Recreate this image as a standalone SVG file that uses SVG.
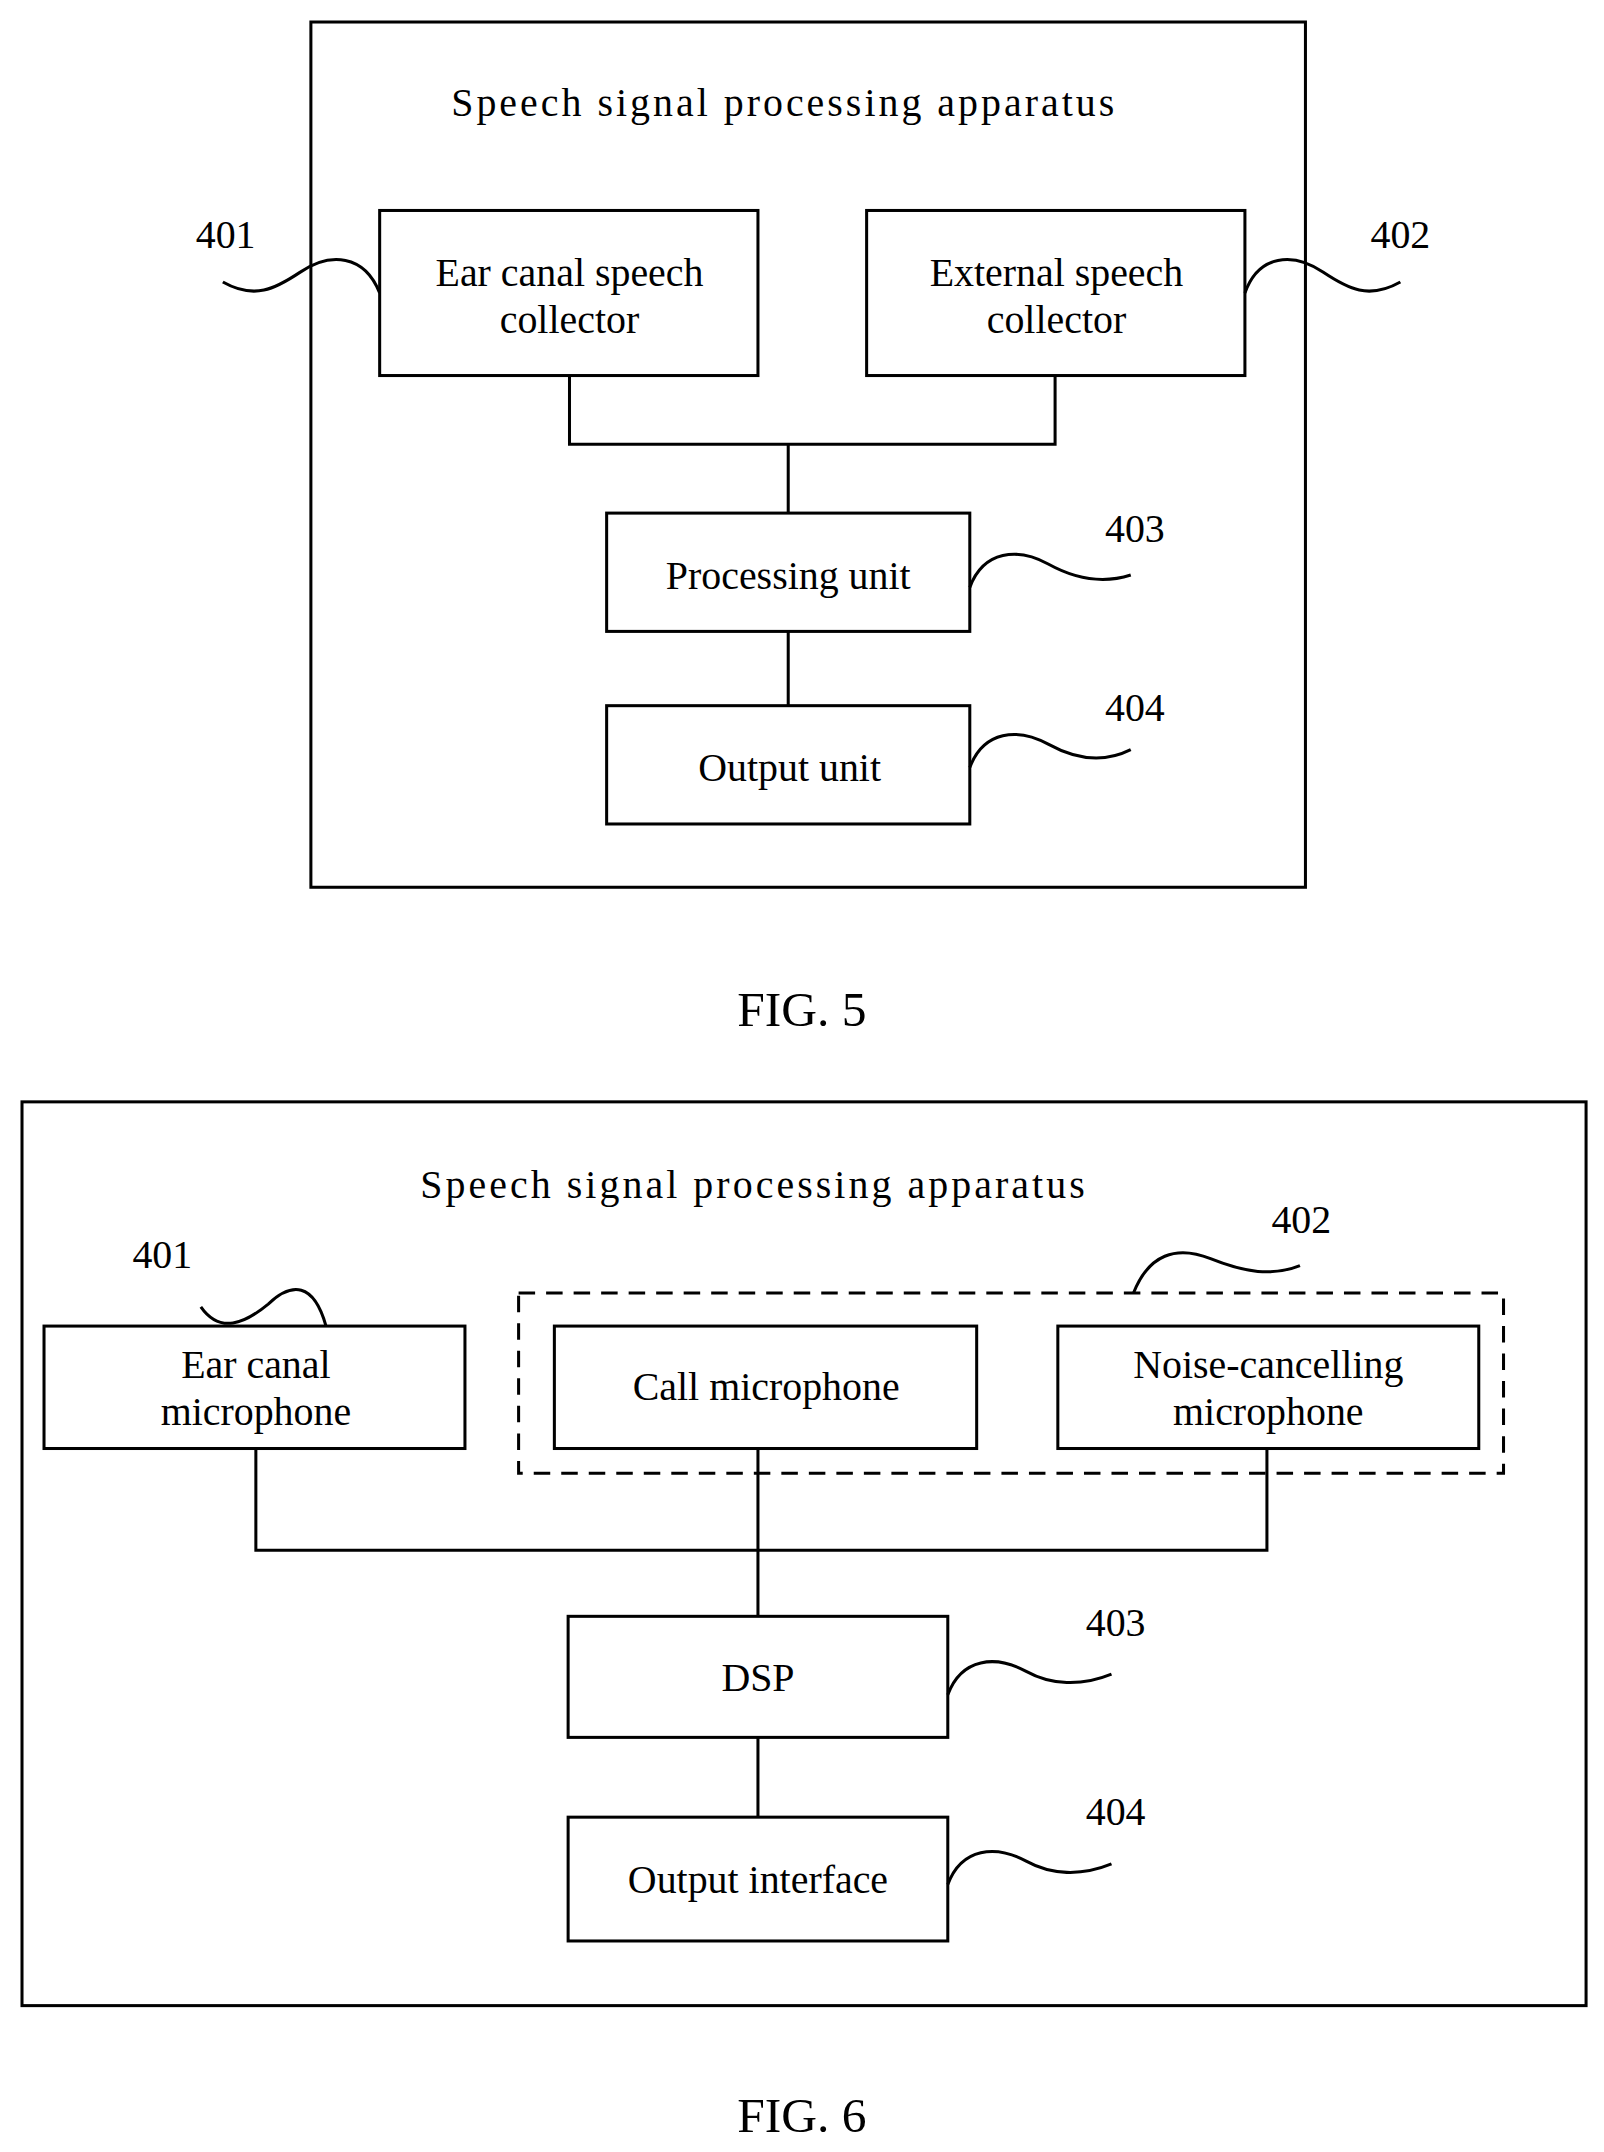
<svg xmlns="http://www.w3.org/2000/svg" width="1604" height="2152" viewBox="0 0 1604 2152">
<style>
rect{fill:none;stroke:#000;stroke-width:2.2}
.c path,.c line,path.w{fill:none;stroke:#000;stroke-width:2.2}
text{font-family:"Liberation Serif","Times New Roman",serif;font-size:29px;fill:#000;text-anchor:middle}
.f{font-size:36px}
.d{stroke-dasharray:12 8}
</style>
<rect width="1604" height="2152" fill="#fff" style="fill:#fff;stroke:none"/>
<g transform="scale(1.3756)">
<g id="fig5">
<rect id="outer5" x="226" y="16" width="723" height="629"/>
<text x="569" y="84" textLength="482">Speech signal processing apparatus</text>
<g id="n401a"><rect x="276" y="153" width="275" height="120"/><text x="414" y="208">Ear canal speech</text><text x="414" y="242">collector</text></g>
<g id="n402a"><rect x="630" y="153" width="275" height="120"/><text x="768" y="208">External speech</text><text x="768" y="242">collector</text></g>
<g id="n403a"><rect x="441" y="373" width="264" height="86"/><text x="573" y="428">Processing unit</text></g>
<g id="n404a"><rect x="441" y="513" width="264" height="86"/><text x="574" y="568">Output unit</text></g>
<g class="c" id="conn5">
<path d="M414 273V323H767V273M573 323V373M573 459V513"/>
<path class="w" d="M162 205C185 218 200 210 218 198C240 183 265 185 276 213"/>
<path class="w" d="M905 213C915 185 940 183 962 198C980 210 995 218 1018 205"/>
<path class="w" d="M705 427C715 400 740 398 762 410C780 420 800 425 822 418"/>
<path class="w" d="M705 558C715 531 740 529 762 541C780 551 800 556 822 545"/>
</g>
<text x="164" y="180">401</text><text x="1018" y="180">402</text><text x="825" y="394">403</text><text x="825" y="524">404</text>
<text class="f" x="583" y="746">FIG. 5</text>
</g>
<g id="fig6">
<rect id="outer6" x="16" y="801" width="1137" height="657"/>
<text x="547" y="871" textLength="483">Speech signal processing apparatus</text>
<rect id="group402" class="d" x="377" y="940" width="716" height="131"/>
<g id="n401b"><rect x="32" y="964" width="306" height="89"/><text x="186" y="1002">Ear canal</text><text x="186" y="1036">microphone</text></g>
<g id="ncall"><rect x="403" y="964" width="307" height="89"/><text x="557" y="1018">Call microphone</text></g>
<g id="nnoise"><rect x="769" y="964" width="306" height="89"/><text x="922" y="1002">Noise-cancelling</text><text x="922" y="1036">microphone</text></g>
<g id="ndsp"><rect x="413" y="1175" width="276" height="88"/><text x="551" y="1229">DSP</text></g>
<g id="nout"><rect x="413" y="1321" width="276" height="90"/><text x="551" y="1376">Output interface</text></g>
<g class="c" id="conn6">
<path d="M186 1053V1127H921V1053M551 1053V1175M551 1263V1321"/>
<path class="w" d="M146 950C160 970 178 962 195 948C212 932 228 932 237 964"/>
<path class="w" d="M824 940C835 912 855 905 880 915C905 925 925 928 945 920"/>
<path class="w" d="M689 1232C699 1205 724 1203 746 1215C764 1225 786 1226 808 1217"/>
<path class="w" d="M689 1370C699 1343 724 1341 746 1353C764 1363 786 1364 808 1355"/>
</g>
<text x="118" y="922">401</text><text x="946" y="896">402</text><text x="811" y="1189">403</text><text x="811" y="1327">404</text>
<text class="f" x="583" y="1550">FIG. 6</text>
</g>
</g>
</svg>
